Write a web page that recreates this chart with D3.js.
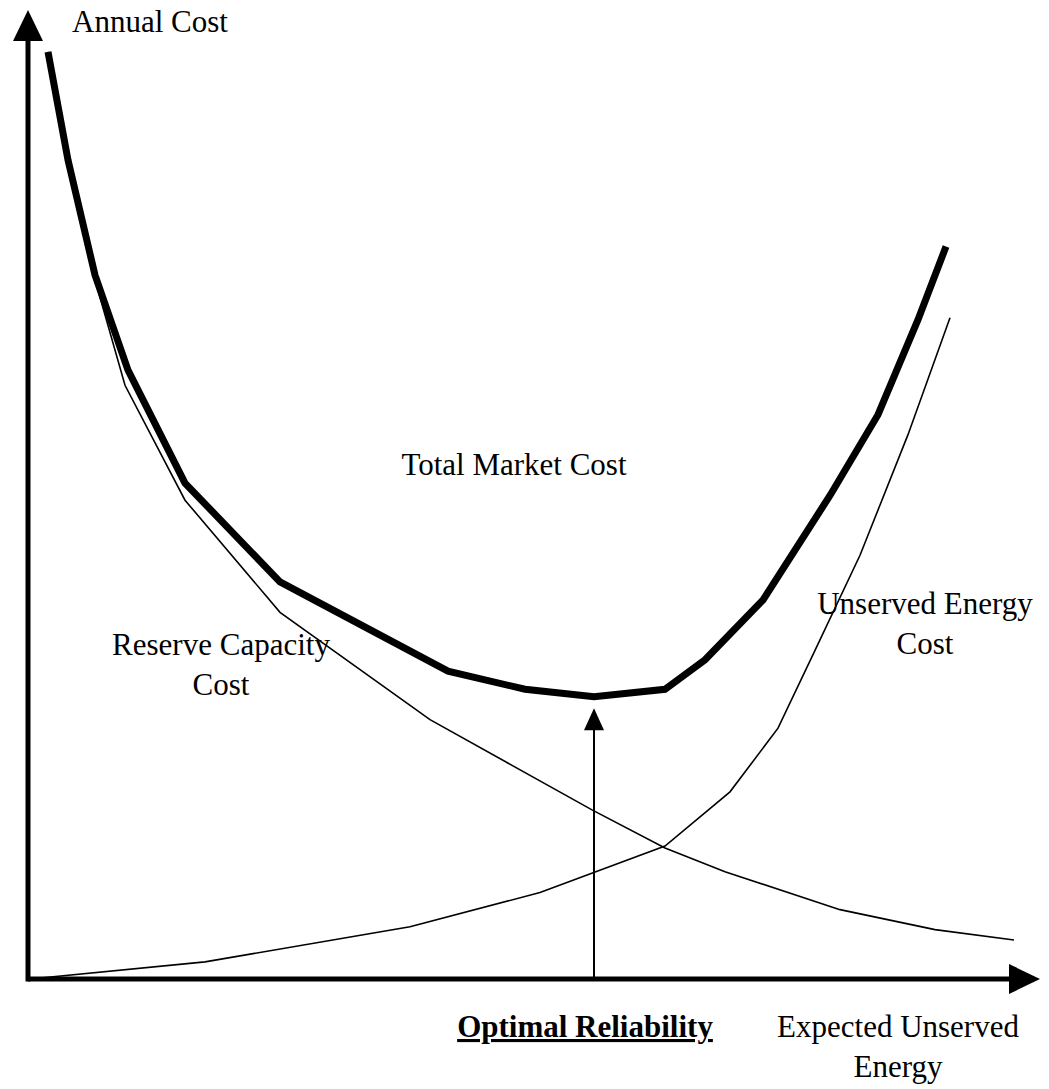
<!DOCTYPE html>
<html>
<head>
<meta charset="utf-8">
<script src="https://cdn.jsdelivr.net/npm/d3@7"></script>
<style>
  body { margin: 0; background: #fff; }
  text { font-family: "Liberation Serif", "Times New Roman", serif; fill: #000; }
</style>
</head>
<body>
<svg id="graph"></svg>
<script>
// values (x: expected unserved energy, y: annual cost, both 0-100)
let totalX    = [2.0, 4.0, 6.7, 10.0, 15.7, 25.2, 42.0, 49.7, 56.6, 63.7, 67.7, 73.5, 80.2, 85.0, 89.0, 91.8]
let totalY    = [97.6, 86.2, 74.1, 64.1, 52.2, 41.8, 32.4, 30.5, 29.7, 30.5, 33.6, 39.9, 50.9, 59.4, 69.4, 77.1]
let reserveX  = [2.0, 4.0, 6.7, 9.7, 15.7, 25.2, 40.2, 56.4, 63.7, 69.7, 81.2, 90.7, 98.6]
let reserveY  = [97.6, 86.2, 73.6, 62.5, 50.4, 38.6, 27.3, 17.8, 13.8, 11.3, 7.3, 5.2, 4.1]
let unservedX = [0.2, 17.7, 38.2, 51.2, 63.7, 70.2, 75.0, 78.7, 83.2, 88.0, 92.2]
let unservedY = [0, 1.8, 5.5, 9.1, 14.0, 19.7, 26.4, 34.6, 44.6, 57.3, 69.6]
let optimalX = 56.6
let optimalTop = 28.5
let axisEndX = 101.2
let axisEndY = 102

let fullWidth = 1049
let fullHeight = 1089

let svg = d3.select('svg#graph')
            .attr('width', fullWidth)
            .attr('height', fullHeight)

svg.append('rect')
   .attr('width', fullWidth)
   .attr('height', fullHeight)
   .attr('fill', '#fff')

let x = d3.scaleLinear().domain([0, 100]).range([28, 1028])
let y = d3.scaleLinear().domain([0, 100]).range([979, 29])

let line = d3.line().x(d => x(d[0])).y(d => y(d[1]))
let zip = (xs, ys) => xs.map((v, i) => [v, ys[i]])

// axes with arrow heads
let x0 = x(0), y0 = y(0)
svg.append('line')
   .attr('x1', x0).attr('y1', y0)
   .attr('x2', x(axisEndX) - 25).attr('y2', y0)
   .attr('stroke', '#000').attr('stroke-width', 5)
svg.append('line')
   .attr('x1', x0).attr('y1', y0 + 2.5)
   .attr('x2', x0).attr('y2', y(axisEndY) + 25)
   .attr('stroke', '#000').attr('stroke-width', 5)

let xe = x(axisEndX), ye = y(axisEndY)
svg.append('path')
   .attr('d', `M${xe},${y0} L${xe - 31},${y0 - 15} L${xe - 31},${y0 + 15} Z`)
   .attr('fill', '#000')
svg.append('path')
   .attr('d', `M${x0},${ye} L${x0 - 15},${ye + 31} L${x0 + 15},${ye + 31} Z`)
   .attr('fill', '#000')

// curves
svg.append('path')
   .datum(zip(reserveX, reserveY))
   .attr('d', line)
   .attr('fill', 'none').attr('stroke', '#000').attr('stroke-width', 1.6)

svg.append('path')
   .datum(zip(unservedX, unservedY))
   .attr('d', line)
   .attr('fill', 'none').attr('stroke', '#000').attr('stroke-width', 1.6)

svg.append('path')
   .datum(zip(totalX, totalY))
   .attr('d', line)
   .attr('fill', 'none').attr('stroke', '#000').attr('stroke-width', 7)
   .attr('stroke-linejoin', 'miter')

// optimal reliability arrow
let ox = x(optimalX), ot = y(optimalTop)
svg.append('line')
   .attr('x1', ox).attr('y1', y0)
   .attr('x2', ox).attr('y2', ot + 20)
   .attr('stroke', '#000').attr('stroke-width', 2)
svg.append('path')
   .attr('d', `M${ox},${ot} L${ox - 10},${ot + 22} L${ox + 10},${ot + 22} Z`)
   .attr('fill', '#000')

// labels
let fs = 31
function label(lines, cx, by, opts = {}) {
    let t = svg.append('text')
               .attr('text-anchor', opts.anchor || 'middle')
               .attr('font-size', fs)
               .attr('font-weight', opts.bold ? 'bold' : 'normal')
               .attr('text-decoration', opts.underline ? 'underline' : null)
    lines.forEach((s, i) => {
        t.append('tspan').attr('x', cx).attr('y', by + i * 40).text(s)
    })
}

label(['Annual Cost'], 72, 32, {anchor: 'start'})
label(['Total Market Cost'], 514, 475)
label(['Reserve Capacity', 'Cost'], 221, 655)
label(['Unserved Energy', 'Cost'], 925, 614)
label(['Optimal Reliability'], 585, 1037, {bold: true, underline: true})
label(['Expected Unserved', 'Energy'], 898, 1037)
</script>
</body>
</html>
